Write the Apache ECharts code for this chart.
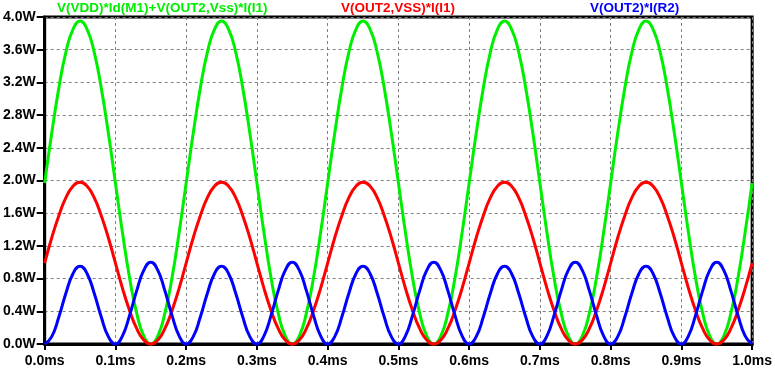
<!DOCTYPE html>
<html>
<head>
<meta charset="utf-8">
<script src="https://cdn.jsdelivr.net/npm/echarts@6/dist/echarts.min.js"></script>
<style>html,body{margin:0;padding:0;background:#fff;}#c{width:775px;height:371px;}</style>
</head>
<body>
<div id="c"></div>
<script>
const time = [0.00,0.01,0.02,0.03,0.04,0.05,0.06,0.07,0.08,0.09,
0.10,0.11,0.12,0.13,0.14,0.15,0.16,0.17,0.18,0.19,
0.20,0.21,0.22,0.23,0.24,0.25,0.26,0.27,0.28,0.29,
0.30,0.31,0.32,0.33,0.34,0.35,0.36,0.37,0.38,0.39,
0.40,0.41,0.42,0.43,0.44,0.45,0.46,0.47,0.48,0.49,
0.50,0.51,0.52,0.53,0.54,0.55,0.56,0.57,0.58,0.59,
0.60,0.61,0.62,0.63,0.64,0.65,0.66,0.67,0.68,0.69,
0.70,0.71,0.72,0.73,0.74,0.75,0.76,0.77,0.78,0.79,
0.80,0.81,0.82,0.83,0.84,0.85,0.86,0.87,0.88,0.89,
0.90,0.91,0.92,0.93,0.94,0.95,0.96,0.97,0.98,0.99,1.00];

const greenW = [1.97,2.58,3.13,3.57,3.85,3.95,3.85,3.57,3.13,2.58,1.97,1.36,0.81,0.38,0.10,0.00,0.10,0.38,0.81,1.36,
1.97,2.58,3.13,3.57,3.85,3.95,3.85,3.57,3.13,2.58,1.97,1.36,0.81,0.38,0.10,0.00,0.10,0.38,0.81,1.36,
1.97,2.58,3.13,3.57,3.85,3.95,3.85,3.57,3.13,2.58,1.97,1.36,0.81,0.38,0.10,0.00,0.10,0.38,0.81,1.36,
1.97,2.58,3.13,3.57,3.85,3.95,3.85,3.57,3.13,2.58,1.97,1.36,0.81,0.38,0.10,0.00,0.10,0.38,0.81,1.36,
1.97,2.58,3.13,3.57,3.85,3.95,3.85,3.57,3.13,2.58,1.97,1.36,0.81,0.38,0.10,0.00,0.10,0.38,0.81,1.36,1.97];

const redW = [0.99,1.30,1.57,1.79,1.93,1.98,1.93,1.79,1.57,1.30,0.99,0.68,0.41,0.19,0.05,0.00,0.05,0.19,0.41,0.68,
0.99,1.30,1.57,1.79,1.93,1.98,1.93,1.79,1.57,1.30,0.99,0.68,0.41,0.19,0.05,0.00,0.05,0.19,0.41,0.68,
0.99,1.30,1.57,1.79,1.93,1.98,1.93,1.79,1.57,1.30,0.99,0.68,0.41,0.19,0.05,0.00,0.05,0.19,0.41,0.68,
0.99,1.30,1.57,1.79,1.93,1.98,1.93,1.79,1.57,1.30,0.99,0.68,0.41,0.19,0.05,0.00,0.05,0.19,0.41,0.68,
0.99,1.30,1.57,1.79,1.93,1.98,1.93,1.79,1.57,1.30,0.99,0.68,0.41,0.19,0.05,0.00,0.05,0.19,0.41,0.68,0.99];

const blueW = [0.00,0.09,0.33,0.62,0.86,0.95,0.86,0.62,0.33,0.09,0.00,0.10,0.35,0.65,0.90,1.00,0.90,0.65,0.35,0.10,
0.00,0.09,0.33,0.62,0.86,0.95,0.86,0.62,0.33,0.09,0.00,0.10,0.35,0.65,0.90,1.00,0.90,0.65,0.35,0.10,
0.00,0.09,0.33,0.62,0.86,0.95,0.86,0.62,0.33,0.09,0.00,0.10,0.35,0.65,0.90,1.00,0.90,0.65,0.35,0.10,
0.00,0.09,0.33,0.62,0.86,0.95,0.86,0.62,0.33,0.09,0.00,0.10,0.35,0.65,0.90,1.00,0.90,0.65,0.35,0.10,
0.00,0.09,0.33,0.62,0.86,0.95,0.86,0.62,0.33,0.09,0.00,0.10,0.35,0.65,0.90,1.00,0.90,0.65,0.35,0.10,0.00];

const names = ['V(VDD)*Id(M1)+V(OUT2,Vss)*I(I1)', 'V(OUT2,VSS)*I(I1)', 'V(OUT2)*I(R2)'];
const colors = ['#00ee00', '#ff0000', '#0000ff'];

const pair = (arr) => time.map((t, i) => [t, arr[i]]);
const FONT = 'Liberation Sans, Arial, sans-serif';
const tStyle = (c) => ({color: c, fontSize: 13.5, fontWeight: 'bold', fontFamily: FONT});

const chart = echarts.init(document.getElementById('c'), null, {renderer: 'canvas'});
chart.setOption({
  animation: false,
  backgroundColor: '#ffffff',
  title: [
    {text: names[0], left: 57, top: 1, padding: 0, textStyle: tStyle(colors[0])},
    {text: names[1], left: 341, top: 1, padding: 0, textStyle: tStyle(colors[1])},
    {text: names[2], left: 590, top: 1, padding: 0, textStyle: tStyle(colors[2])}
  ],
  grid: {left: 42, right: 20, top: 17, bottom: 27, show: true, borderColor: '#000', borderWidth: 3, backgroundColor: 'transparent'},
  xAxis: {
    type: 'value', min: 0, max: 1.0, interval: 0.1,
    axisLine: {show: true, lineStyle: {color: '#000', width: 3}},
    axisTick: {show: true, length: 6, lineStyle: {color: '#000', width: 2}},
    axisLabel: {color: '#000', fontSize: 14, fontWeight: 'bold', fontFamily: FONT, margin: 10,
      formatter: v => v.toFixed(1) + 'ms'},
    splitLine: {show: true, lineStyle: {color: '#808080', type: [3, 3], width: 1}}
  },
  yAxis: {
    type: 'value', min: 0, max: 4.0, interval: 0.4,
    axisLine: {show: true, lineStyle: {color: '#000', width: 3}},
    axisTick: {show: true, length: 8, lineStyle: {color: '#000', width: 2}},
    axisLabel: {color: '#000', fontSize: 14, fontWeight: 'bold', fontFamily: FONT, margin: 9,
      formatter: v => v.toFixed(1) + 'W'},
    splitLine: {show: true, lineStyle: {color: '#808080', type: [3, 3], width: 1}}
  },
  series: [
    {name: names[0], type: 'line', data: pair(greenW), smooth: true, showSymbol: false, clip: false, lineStyle: {color: colors[0], width: 3}, itemStyle: {color: colors[0]}},
    {name: names[1], type: 'line', data: pair(redW), smooth: true, showSymbol: false, clip: false, lineStyle: {color: colors[1], width: 3}, itemStyle: {color: colors[1]}},
    {name: names[2], type: 'line', data: pair(blueW), smooth: true, showSymbol: false, clip: false, lineStyle: {color: colors[2], width: 3}, itemStyle: {color: colors[2]}}
  ]
});
</script>
</body>
</html>
